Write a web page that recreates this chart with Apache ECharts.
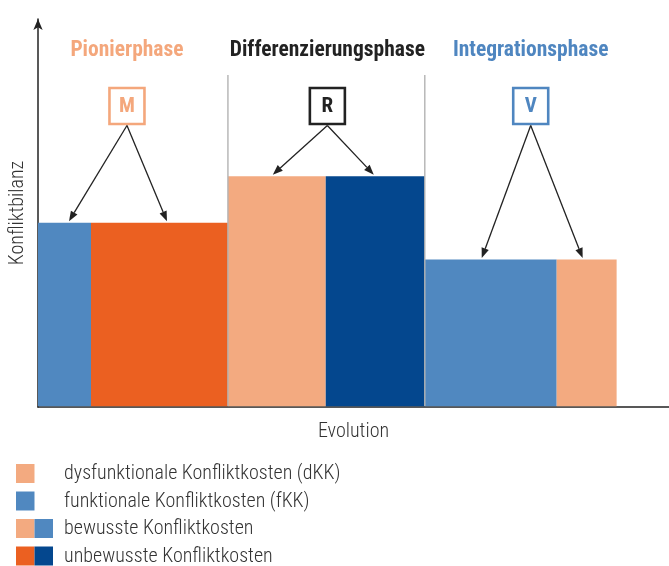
<!DOCTYPE html>
<html><head><meta charset="utf-8">
<script src="https://cdn.jsdelivr.net/npm/echarts@6/dist/echarts.min.js"></script>
<style>html,body{margin:0;padding:0;background:#fff}#c{width:669px;height:566px}</style>
</head><body><div id="c"></div>
<script>
// ---- data ----
const segmentNames = ['fKK', 'unbewusste dKK', 'dKK', 'unbewusste fKK', 'fKK', 'dKK'];
const segmentWidths = [8.4, 21.7, 15.5, 15.7, 20.9, 9.5];
const segmentValues = [47.5, 47.5, 59.5, 59.5, 38, 38];
const segmentKinds = ['fkk', 'unb_dkk', 'dkk', 'unb_fkk', 'fkk', 'dkk'];
const phaseNames = ['Pionierphase', 'Differenzierungsphase', 'Integrationsphase'];
const phaseLetters = ['M', 'R', 'V'];
const phaseSegments = [[0, 1], [2, 3], [4, 5]];
const legendLabels = ['dysfunktionale Konfliktkosten (dKK)', 'funktionale Konfliktkosten (fKK)', 'bewusste Konfliktkosten', 'unbewusste Konfliktkosten'];
const legendKinds = [['dkk'], ['fkk'], ['dkk', 'fkk'], ['unb_dkk', 'unb_fkk']];
const xAxisName = 'Evolution';
const yAxisName = 'Konfliktbilanz';

// ---- styles ----
const FONT = "'Liberation Sans Narrow', 'Roboto Condensed', 'Noto Sans', sans-serif";
const COLORS = { fkk: '#5088C0', dkk: '#F3AA80', unb_dkk: '#EB6021', unb_fkk: '#04478E' };
const PHASE_COLORS = ['#F4A77C', '#222222', '#4F86C0'];
const ANNOT_DX = [-6, 1, 10];
const ARROW_DX = [[4.5, 7.5], [-4, -1.5], [-9, -4]];
const TITLE_Y = 51, BOX_CY = 106, BOX_W = 35, BOX_H = 36, SEP_TOP = 75;

// build bar rows
const starts = [];
let acc = 0;
segmentWidths.forEach(w => { starts.push(acc); acc += w; });
const barData = segmentWidths.map((w, i) => [starts[i], starts[i] + w, segmentValues[i]]);
const annotData = phaseSegments.map((segs, i) => {
  const a = segs[0], b = segs[segs.length - 1];
  const x0 = starts[a], x1 = starts[b] + segmentWidths[b];
  const lc = starts[a] + segmentWidths[a] / 2;
  const rc = starts[b] + segmentWidths[b] / 2;
  return [(x0 + x1) / 2, x0, lc, segmentValues[a], rc, segmentValues[b]];
});

function arrow(x0, y0, x1, y1) {
  const dx = x1 - x0, dy = y1 - y0, L = Math.hypot(dx, dy);
  const ux = dx / L, uy = dy / L, hl = 10, hw = 3.8;
  const bx = x1 - ux * hl, by = y1 - uy * hl;
  return [
    { type: 'line', shape: { x1: x0, y1: y0, x2: bx, y2: by }, style: { stroke: '#222', lineWidth: 1.3 } },
    { type: 'polygon', shape: { points: [[x1, y1], [bx - uy * hw, by + ux * hw], [bx + uy * hw, by - ux * hw]] }, style: { fill: '#222' } }
  ];
}

const chart = echarts.init(document.getElementById('c'));
chart.setOption({
  animation: false,
  grid: { left: 38, right: 0, top: 19, bottom: 159, outerBoundsMode: 'none', containLabel: false },
  xAxis: {
    type: 'value', min: 0, max: 100,
    name: xAxisName, nameLocation: 'middle', nameGap: 15,
    nameTextStyle: { fontFamily: FONT, fontSize: 20, fontWeight: 300, color: '#333' },
    axisLine: { lineStyle: { color: '#222', width: 1.5 } },
    axisTick: { show: false }, axisLabel: { show: false }, splitLine: { show: false }
  },
  yAxis: {
    type: 'value', min: 0, max: 100,
    name: yAxisName, nameLocation: 'middle', nameGap: 10, nameRotate: 90,
    nameTextStyle: { fontFamily: FONT, fontSize: 20, fontWeight: 300, color: '#333' },
    axisLine: { show: true, symbol: ['none', 'arrow'], symbolSize: [7, 11], lineStyle: { color: '#222', width: 1.5 } },
    axisTick: { show: false }, axisLabel: { show: false }, splitLine: { show: false }
  },
  series: [
    {
      type: 'custom', z: 2,
      encode: { x: [0, 1], y: 2 },
      data: barData,
      renderItem(params, api) {
        const p0 = api.coord([api.value(0), api.value(2)]);
        const p1 = api.coord([api.value(1), 0]);
        return { type: 'rect', shape: { x: p0[0], y: p0[1], width: p1[0] - p0[0], height: p1[1] - p0[1] - 0.75 },
          style: { fill: COLORS[segmentKinds[params.dataIndex]] } };
      }
    },
    {
      type: 'custom', z: 3,
      encode: { x: [0, 1, 2, 4], y: [3, 5] },
      data: annotData,
      renderItem(params, api) {
        const i = params.dataIndex;
        const cx = api.coord([api.value(0), 0])[0] + ANNOT_DX[i];
        const base = api.coord([api.value(1), 0]);
        const lt = api.coord([api.value(2), api.value(3)]);
        const rt = api.coord([api.value(4), api.value(5)]);
        const col = PHASE_COLORS[i];
        const children = [];
        if (i > 0) {
          children.push({ type: 'line', shape: { x1: base[0], y1: SEP_TOP, x2: base[0], y2: base[1] - 1 }, style: { stroke: '#b3b3b3', lineWidth: 1.4 } });
        }
        children.push({ type: 'text', x: cx, y: TITLE_Y, style: { text: phaseNames[i], fill: col, font: 'bold 21.5px ' + FONT, align: 'center', verticalAlign: 'middle' } });
        children.push({ type: 'rect', shape: { x: cx - BOX_W / 2, y: BOX_CY - BOX_H / 2, width: BOX_W, height: BOX_H }, style: { fill: '#fff', stroke: col, lineWidth: 2.6 } });
        children.push({ type: 'text', x: cx, y: BOX_CY + 1, style: { text: phaseLetters[i], fill: col, font: 'bold 21px ' + FONT, align: 'center', verticalAlign: 'middle' } });
        const sy = BOX_CY + BOX_H / 2 + 1.5;
        children.push(...arrow(cx, sy, lt[0] + ARROW_DX[i][0], lt[1] - 1.5));
        children.push(...arrow(cx, sy, rt[0] + ARROW_DX[i][1], rt[1] - 1.5));
        return { type: 'group', children };
      }
    }
  ],
  graphic: legendLabels.flatMap((lab, r) => {
    const y = 464 + r * 27.5;
    const els = legendKinds[r].map((k, j) => ({ type: 'rect', shape: { x: 16 + j * 18.5, y: y, width: 18.5, height: 19 }, style: { fill: COLORS[k] } }));
    els.push({ type: 'text', x: 64, y: y + 10, style: { text: lab, fill: '#333', font: '300 20px ' + FONT, verticalAlign: 'middle' } });
    return els;
  })
});
</script>
</body></html>
